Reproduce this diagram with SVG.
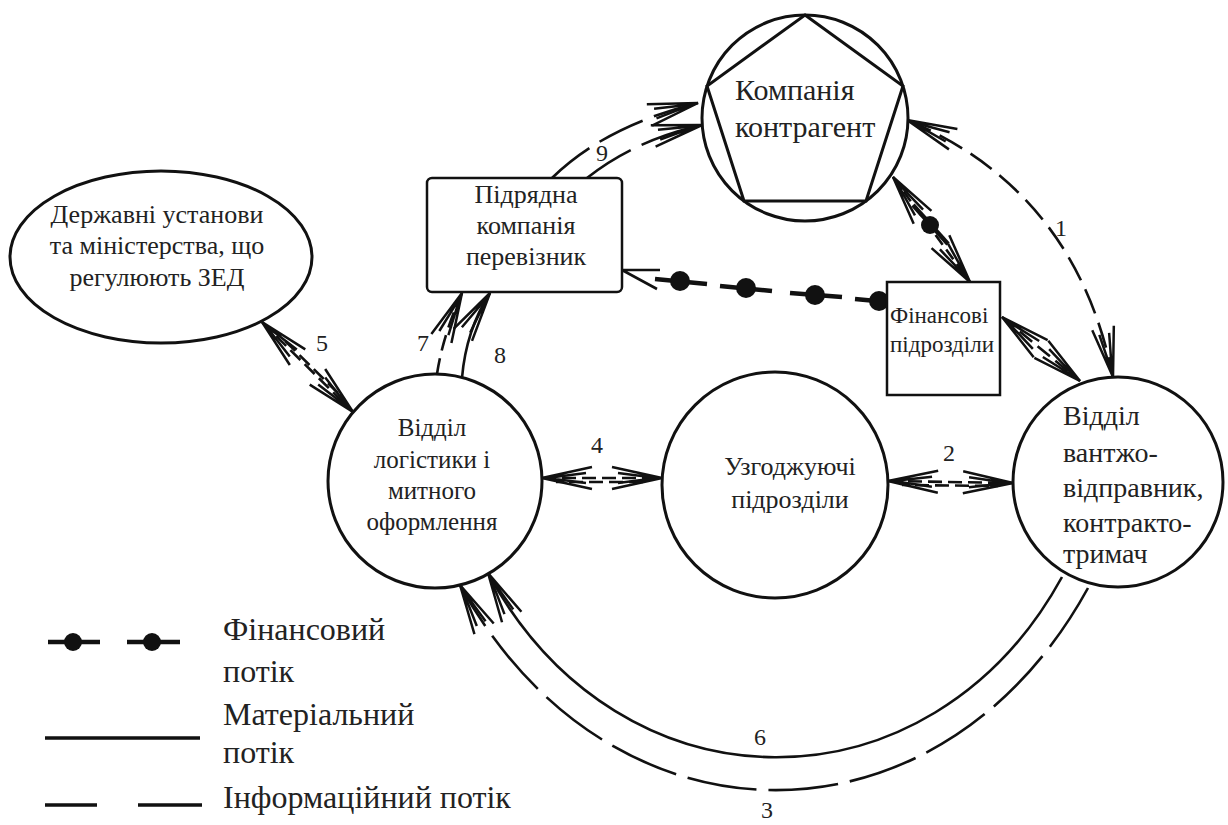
<svg xmlns="http://www.w3.org/2000/svg" width="1228" height="825" viewBox="0 0 1228 825" font-family="Times New Roman">
<defs>
<marker id="ah" markerUnits="userSpaceOnUse" viewBox="-60 -20 64 40" refX="0" refY="0" markerWidth="64" markerHeight="40" orient="auto-start-reverse" overflow="visible">
<path d="M-50,-11 L0,0 L-50,11 M-44,-5 L-5,0 L-44,5" fill="none" stroke="#111" stroke-width="2.5"/>
</marker>
</defs>
<rect width="1228" height="825" fill="#fff"/>

<g id="connectors" fill="none" stroke="#111" stroke-width="2.6">
<path stroke-dasharray="26 10" d="M907,120 Q1075,190 1113,377" marker-start="url(#ah)" marker-end="url(#ah)"/>
<path stroke-dasharray="14 6" d="M888,481 L1013,483" marker-start="url(#ah)" marker-end="url(#ah)"/>
<path stroke-dasharray="14 6" d="M902,485 L998,486" stroke-dashoffset="7"/>
<path stroke-dasharray="14 6" d="M542,478 L662,478" marker-start="url(#ah)" marker-end="url(#ah)"/>
<path stroke-dasharray="14 6" d="M556,482 L648,482" stroke-dashoffset="7"/>
<path stroke-dasharray="14 6" d="M262,322 L353,412" marker-start="url(#ah)" marker-end="url(#ah)"/>
<path stroke-dasharray="14 6" d="M276,332 L342,397" stroke-dashoffset="7"/>
<path stroke-dasharray="16 8" d="M437,374 Q443,335 462,293" marker-end="url(#ah)"/>
<path d="M462,378 Q466,330 490,293" marker-end="url(#ah)"/>
<path stroke-dasharray="48 12" d="M552,178 Q605,126 698,103" marker-end="url(#ah)"/>
<path stroke-dasharray="52 12" d="M587,178 Q635,140 702,125" marker-end="url(#ah)"/>
<path d="M1062,577 C930,818 620,818 488,573" marker-end="url(#ah)"/>
<path stroke-dasharray="70 12" d="M1088,588 C940,858 610,858 460,585" marker-end="url(#ah)"/>
<path stroke-dasharray="16 7" d="M1002,317 L1080,381" marker-start="url(#ah)" marker-end="url(#ah)"/>
<path stroke-dasharray="12 6" d="M893,177 L970,282" marker-start="url(#ah)" marker-end="url(#ah)"/>
<path stroke-width="4.5" d="M913,205 L948,244"/>
<path stroke-width="4.5" d="M655,279 L707,284 M720,286 L772,291 M790,293 L842,297 M855,299 L887,302"/>
<path d="M660,270 L622,270 L657,289"/>
<g fill="#111" stroke="none">
<circle cx="930" cy="225" r="9"/>
<circle cx="680" cy="281" r="10"/>
<circle cx="746" cy="288" r="10"/>
<circle cx="815" cy="295" r="10"/>
<circle cx="879" cy="301" r="10"/>
</g>
</g>

<g id="kompaniia">
<circle cx="805" cy="118" r="103" fill="#fff" stroke="#111" stroke-width="3"/>
<polygon points="805,15 903,86 866,201 744,201 707,86" fill="none" stroke="#111" stroke-width="3"/>
<text font-family="Times New Roman" font-size="30" fill="#222" x="735" y="100">Компанія</text>
<text font-family="Times New Roman" font-size="30" fill="#222" x="735" y="137">контрагент</text>
</g>

<g id="pidriadna">
<rect x="427" y="178" width="195" height="114" rx="5" fill="#fff" stroke="#111" stroke-width="2.5"/>
<text font-family="Times New Roman" font-size="26" fill="#222" text-anchor="middle" x="526" y="203">Підрядна</text>
<text font-family="Times New Roman" font-size="26" fill="#222" text-anchor="middle" x="526" y="234">компанія</text>
<text font-family="Times New Roman" font-size="26" fill="#222" text-anchor="middle" x="526" y="265">перевізник</text>
</g>

<g id="derzhavni">
<ellipse cx="161" cy="257" rx="151" ry="86" fill="#fff" stroke="#111" stroke-width="3"/>
<text font-family="Times New Roman" font-size="26" fill="#222" text-anchor="middle" x="157" y="223">Державні установи</text>
<text font-family="Times New Roman" font-size="26" fill="#222" text-anchor="middle" x="157" y="254">та міністерства, що</text>
<text font-family="Times New Roman" font-size="26" fill="#222" text-anchor="middle" x="157" y="286">регулюють ЗЕД</text>
</g>

<g id="logistyka">
<circle cx="435" cy="481" r="107" fill="#fff" stroke="#111" stroke-width="3"/>
<text font-family="Times New Roman" font-size="25" fill="#222" text-anchor="middle" x="432" y="436">Відділ</text>
<text font-family="Times New Roman" font-size="25" fill="#222" text-anchor="middle" x="432" y="468">логістики і</text>
<text font-family="Times New Roman" font-size="25" fill="#222" text-anchor="middle" x="432" y="499">митного</text>
<text font-family="Times New Roman" font-size="25" fill="#222" text-anchor="middle" x="432" y="530">оформлення</text>
</g>

<g id="uzgodzh">
<circle cx="775" cy="485" r="113" fill="#fff" stroke="#111" stroke-width="3"/>
<text font-family="Times New Roman" font-size="26" fill="#222" text-anchor="middle" x="790" y="475">Узгоджуючі</text>
<text font-family="Times New Roman" font-size="26" fill="#222" text-anchor="middle" x="790" y="508">підрозділи</text>
</g>

<g id="vantazh">
<circle cx="1118" cy="482" r="105" fill="#fff" stroke="#111" stroke-width="3"/>
<text font-family="Times New Roman" font-size="28" fill="#222" x="1063" y="425">Відділ</text>
<text font-family="Times New Roman" font-size="28" fill="#222" x="1063" y="462">вантжо-</text>
<text font-family="Times New Roman" font-size="28" fill="#222" x="1063" y="497">відправник,</text>
<text font-family="Times New Roman" font-size="28" fill="#222" x="1063" y="532">контракто-</text>
<text font-family="Times New Roman" font-size="28" fill="#222" x="1063" y="563">тримач</text>
</g>

<g id="finansovi">
<rect x="887" y="282" width="113" height="113" fill="#fff" stroke="#111" stroke-width="2.5"/>
<text font-family="Times New Roman" font-size="23" fill="#222" x="890" y="323">Фінансові</text>
<text font-family="Times New Roman" font-size="23" fill="#222" x="890" y="352">підрозділи</text>
</g>

<g id="labels">
<text font-family="Times New Roman" font-size="24" fill="#222" x="1055" y="236">1</text>
<text font-family="Times New Roman" font-size="24" fill="#222" x="943" y="461">2</text>
<text font-family="Times New Roman" font-size="24" fill="#222" x="761" y="818">3</text>
<text font-family="Times New Roman" font-size="24" fill="#222" x="591" y="453">4</text>
<text font-family="Times New Roman" font-size="24" fill="#222" x="316" y="351">5</text>
<text font-family="Times New Roman" font-size="24" fill="#222" x="754" y="745">6</text>
<text font-family="Times New Roman" font-size="24" fill="#222" x="417" y="351">7</text>
<text font-family="Times New Roman" font-size="24" fill="#222" x="494" y="363">8</text>
<text font-family="Times New Roman" font-size="24" fill="#222" x="596" y="161">9</text>
</g>

<g id="legend">
<path d="M48,642 L100,642 M127,642 L180,642" stroke="#111" stroke-width="4.5"/>
<circle cx="73" cy="642" r="9" fill="#111"/>
<circle cx="152" cy="642" r="9" fill="#111"/>
<text font-family="Times New Roman" font-size="32" fill="#222" x="223" y="640">Фінансовий</text>
<text font-family="Times New Roman" font-size="32" fill="#222" x="223" y="682">потік</text>
<path d="M45,738 L200,738" stroke="#111" stroke-width="3.5"/>
<text font-family="Times New Roman" font-size="32" fill="#222" x="223" y="725">Матеріальний</text>
<text font-family="Times New Roman" font-size="32" fill="#222" x="223" y="763">потік</text>
<path d="M45,805 L97,805 M138,805 L202,805" stroke="#111" stroke-width="3.5"/>
<text font-family="Times New Roman" font-size="32" fill="#222" x="223" y="808">Інформаційний потік</text>
</g>
</svg>
